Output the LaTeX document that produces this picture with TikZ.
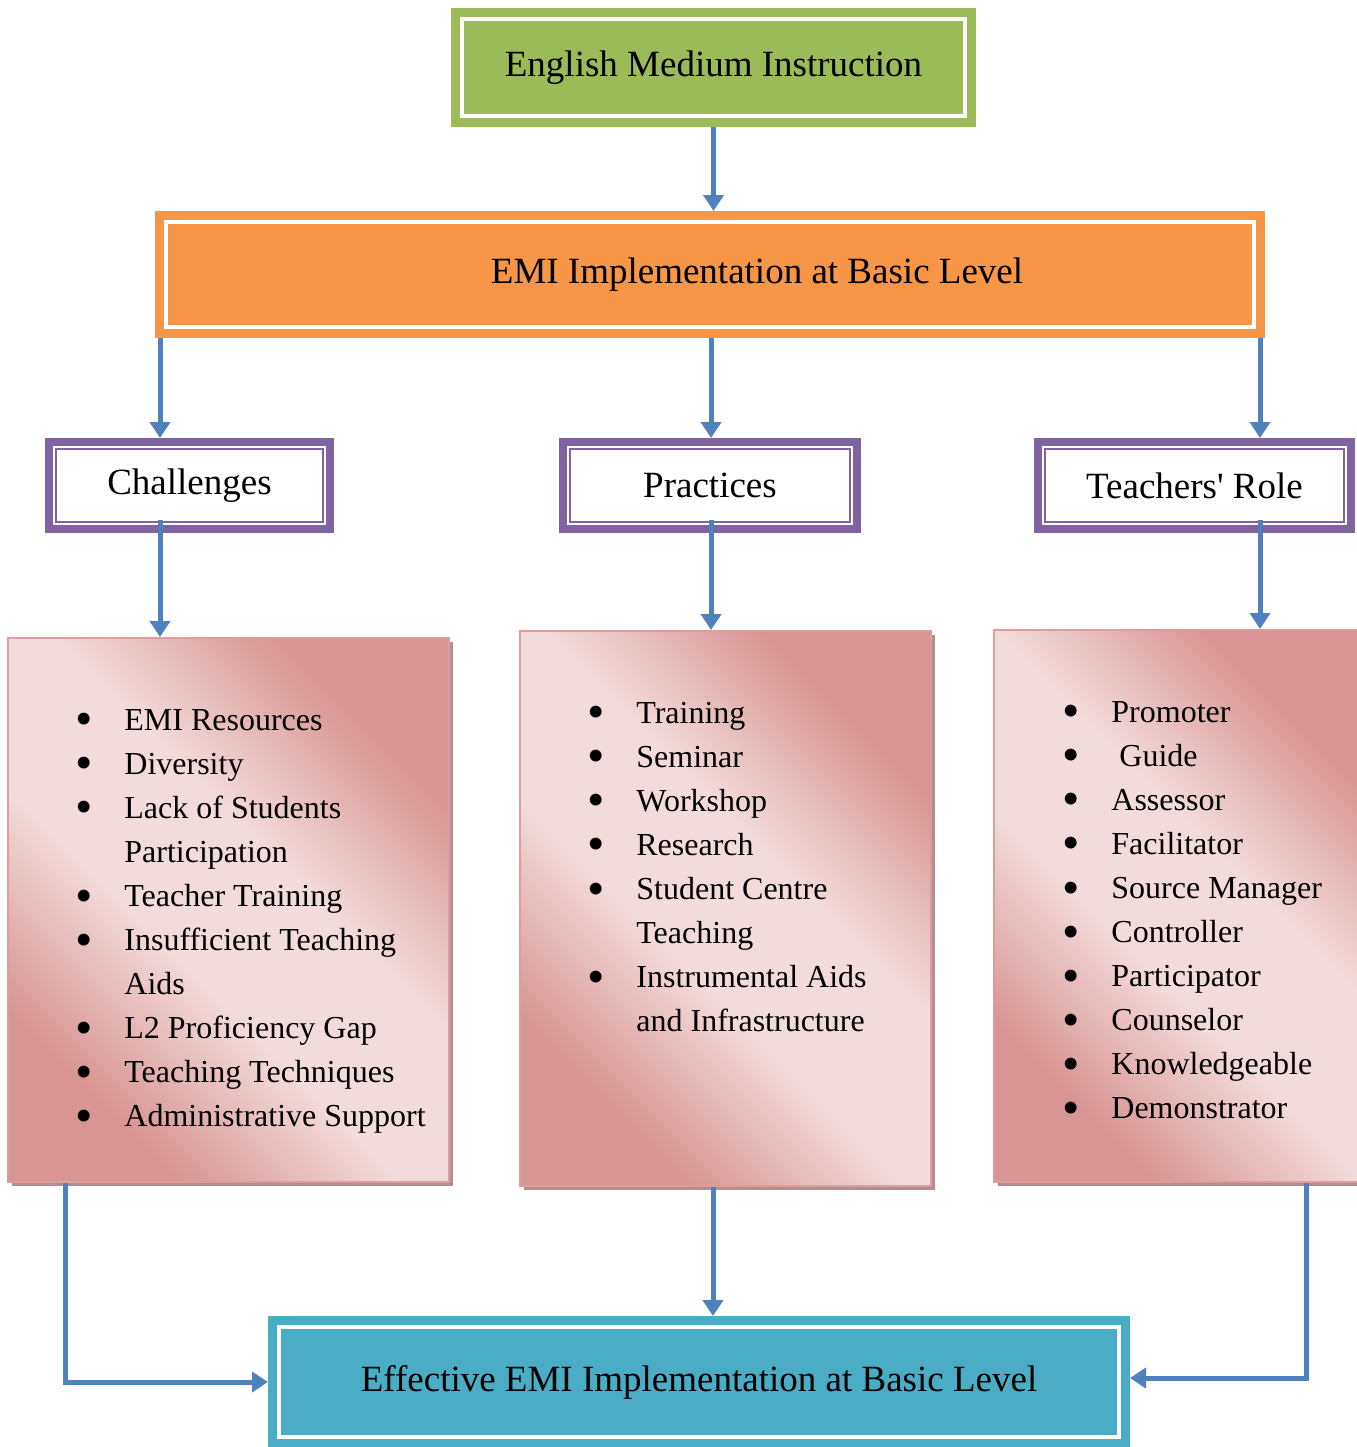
\documentclass[tikz,border=0pt]{standalone}
\usepackage{fontspec}
\setmainfont{Liberation Serif}
\usetikzlibrary{positioning}
\usetikzlibrary{arrows.meta}
\usetikzlibrary{shadows}

\definecolor{emigreen}{HTML}{9BBB59}
\definecolor{emiorange}{HTML}{F79646}
\definecolor{emipurple}{HTML}{8064A2}
\definecolor{emiteal}{HTML}{4BACC6}
\definecolor{arrowblue}{HTML}{4F81BD}
\definecolor{pinklight}{HTML}{F2DCDB}
\definecolor{pinkdark}{HTML}{D99594}
\definecolor{pinkline}{HTML}{DD9D9C}
\definecolor{pinkshadow}{HTML}{B28E90}

\pgfdeclareverticalshading{pinkband}{100bp}{color(0bp)=(pinkdark); color(27bp)=(pinkdark);
    color(43bp)=(pinklight); color(57bp)=(pinklight); color(73bp)=(pinkdark); color(100bp)=(pinkdark)}

\newlength{\bulw}
\setlength{\bulw}{23pt}
\newcommand{\itm}{\makebox[\bulw][l]{\hspace{-1.5pt}\smash{\raisebox{-2.8pt}{\scalebox{1.55}{\textbullet}}}}}
\newcommand{\nxt}{\makebox[\bulw][l]{}}

\begin{document}
\begin{tikzpicture}[x=0.5pt, y=-0.5pt,
    headfont/.style={font=\fontsize{18.5}{22}\selectfont},
    twinbox/.style={draw=#1, fill=#1, line width=4.5pt, double=white,
        double distance=2pt, outer sep=5.5pt, inner sep=0pt, headfont},
    rolebox/.style={draw=emipurple, fill=white, line width=4pt, inner sep=0pt,
        headfont,
        path picture={\draw[emipurple, line width=1.25pt]
            ([shift={(3.6pt,-3.6pt)}]path picture bounding box.north west) rectangle
            ([shift={(-3.6pt,3.6pt)}]path picture bounding box.south east);}},
    listbox/.style={draw=pinkline, line width=1pt, shading=pinkband, shading angle=-45,
        drop shadow={shadow xshift=2pt, shadow yshift=-2pt, fill=pinkshadow, opacity=1}},
    listtext/.style={anchor=base west, inner sep=0pt,
        font=\fontsize{16}{22.05}\selectfont},
    arr/.style={draw=arrowblue, line width=2.5pt, -{Triangle[length=8pt,width=10pt]}}
    ]
    \useasboundingbox (0,0) rectangle (1356,1447);

    % top of the tree
    \node[twinbox=emigreen, minimum width=251.5pt, minimum height=48.5pt] (emi)
        at (713.5,67.5) {English Medium Instruction};
    \node[twinbox=emiorange, minimum width=544pt, minimum height=52.5pt] (basic)
        at (710,274.5) {\hspace{47pt}EMI Implementation at Basic Level};

    % three branches
    \node[rolebox, minimum width=140.5pt, minimum height=43.5pt] (chal)
        at (189.5,485.5) {Challenges};
    \node[rolebox, minimum width=147pt, minimum height=43.5pt] (prac)
        at (710,485.5) {Practices};
    \node[rolebox, minimum width=156.5pt, minimum height=43.5pt] (role)
        at (1194.5,485.5) {Teachers\textquotesingle{} Role};

    % list panels
    \node[listbox, shade, minimum width=220.5pt, minimum height=272pt] (chlist) at (228.5,910) {};
    \node[listbox, shade, minimum width=205.5pt, minimum height=277.5pt] (prlist) at (725.5,908.5) {};
    \node[listbox, shade, minimum width=185.5pt, minimum height=276pt] (rolelist) at (1179.5,906) {};

    \node[listtext] (chitems) at (78,730) {\begin{tabular}[t]{@{}l@{}}
        \itm EMI Resources\\
        \itm Diversity\\
        \itm Lack of Students\\
        \nxt Participation\\
        \itm Teacher Training\\
        \itm Insufficient Teaching\\
        \nxt Aids\\
        \itm L2 Proficiency Gap\\
        \itm Teaching Techniques\\
        \itm Administrative Support
    \end{tabular}};
    \node[listtext] (pritems) at (590,723) {\begin{tabular}[t]{@{}l@{}}
        \itm Training\\
        \itm Seminar\\
        \itm Workshop\\
        \itm Research\\
        \itm Student Centre\\
        \nxt Teaching\\
        \itm Instrumental Aids\\
        \nxt and Infrastructure
    \end{tabular}};
    \node[listtext] (roleitems) at (1065,722) {\begin{tabular}[t]{@{}l@{}}
        \itm Promoter\\
        \itm \ Guide\\
        \itm Assessor\\
        \itm Facilitator\\
        \itm Source Manager\\
        \itm Controller\\
        \itm Participator\\
        \itm Counselor\\
        \itm Knowledgeable\\
        \itm Demonstrator
    \end{tabular}};

    % result
    \node[twinbox=emiteal, minimum width=420pt, minimum height=55pt] (effect)
        at (699,1382) {Effective EMI Implementation at Basic Level};

    % arrow lanes
    \coordinate (laneA) at (65,0);
    \coordinate (laneB) at (160,0);
    \coordinate (laneC) at (711,0);
    \coordinate (laneD) at (713,0);
    \coordinate (laneE) at (1260,0);
    \coordinate (laneF) at (1306,0);

    \draw[arr] (emi.south) -- (emi.south |- basic.north);
    \draw[arr] (basic.south -| laneB) -- (chal.north -| laneB);
    \draw[arr] (basic.south -| laneC) -- (prac.north -| laneC);
    \draw[arr] (basic.south -| laneE) -- (role.north -| laneE);
    \draw[arr] ([yshift=6.5pt]chal.south -| laneB) -- (chlist.north -| laneB);
    \draw[arr] ([yshift=6.5pt]prac.south -| laneC) -- (prlist.north -| laneC);
    \draw[arr] ([yshift=6.5pt]role.south -| laneE) -- (rolelist.north -| laneE);
    \draw[arr] (chlist.south -| laneA) |- (effect.west);
    \draw[arr] (prlist.south -| laneD) -- (effect.north -| laneD);
    \draw[arr] (rolelist.south -| laneF) |- ([yshift=2pt]effect.east);
\end{tikzpicture}
\end{document}
